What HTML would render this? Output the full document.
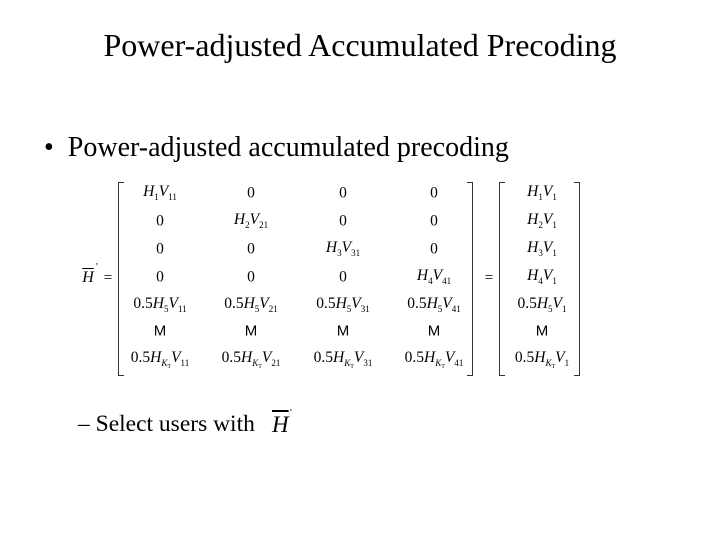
<!DOCTYPE html>
<html><head><meta charset="utf-8"><style>
body{margin:0;width:720px;height:540px;background:#fff;position:relative;overflow:hidden;font-family:"Liberation Serif",serif;color:#000}
.a{position:absolute;white-space:nowrap}
.c{position:absolute;white-space:nowrap;transform:translate(-50%,-50%);font-size:15.5px;line-height:1}
i{font-style:italic}
sub{font-size:9px;vertical-align:-4px;font-style:normal}
.m{font-family:"Liberation Sans",sans-serif;font-size:15px}
.br{position:absolute;border:1.5px solid #333;top:182px;height:192px;width:5px}
.pr{position:absolute;font-size:10px}
</style></head><body>
<div class="a" style="left:0;width:720px;text-align:center;top:27px;font-size:32px">Power-adjusted Accumulated Precoding</div>
<div class="a" style="left:44px;top:132px;font-size:28px">•&nbsp; Power-adjusted accumulated precoding</div>
<div class="a" style="left:78px;top:411px;font-size:23.5px">– Select users with</div>
<div class="a" style="left:272px;top:412px;font-size:23px"><i style="text-decoration:overline">H</i></div>
<div class="pr" style="left:290px;top:408px">'</div>

<div class="c" style="left:88px;top:278px;font-size:16px"><i style="text-decoration:overline">H</i></div>
<div class="pr" style="left:96px;top:262px">'</div>
<div class="c" style="left:108px;top:278px">=</div>
<div class="c" style="left:489px;top:278px">=</div>
<div class="br" style="left:118px;border-right:none"></div>
<div class="br" style="left:467px;border-left:none"></div>
<div class="br" style="left:499px;border-right:none"></div>
<div class="br" style="left:574px;border-left:none"></div>

<div class="c" style="left:160px;top:193px"><i>H</i><sub>1</sub><i>V</i><sub>11</sub></div>
<div class="c" style="left:251px;top:193px">0</div>
<div class="c" style="left:343px;top:193px">0</div>
<div class="c" style="left:434px;top:193px">0</div>
<div class="c" style="left:160px;top:221px">0</div>
<div class="c" style="left:251px;top:221px"><i>H</i><sub>2</sub><i>V</i><sub>21</sub></div>
<div class="c" style="left:343px;top:221px">0</div>
<div class="c" style="left:434px;top:221px">0</div>
<div class="c" style="left:160px;top:249px">0</div>
<div class="c" style="left:251px;top:249px">0</div>
<div class="c" style="left:343px;top:249px"><i>H</i><sub>3</sub><i>V</i><sub>31</sub></div>
<div class="c" style="left:434px;top:249px">0</div>
<div class="c" style="left:160px;top:277px">0</div>
<div class="c" style="left:251px;top:277px">0</div>
<div class="c" style="left:343px;top:277px">0</div>
<div class="c" style="left:434px;top:277px"><i>H</i><sub>4</sub><i>V</i><sub>41</sub></div>
<div class="c" style="left:160px;top:305px">0.5<i>H</i><sub>5</sub><i>V</i><sub>11</sub></div>
<div class="c" style="left:251px;top:305px">0.5<i>H</i><sub>5</sub><i>V</i><sub>21</sub></div>
<div class="c" style="left:343px;top:305px">0.5<i>H</i><sub>5</sub><i>V</i><sub>31</sub></div>
<div class="c" style="left:434px;top:305px">0.5<i>H</i><sub>5</sub><i>V</i><sub>41</sub></div>
<div class="c m" style="left:160px;top:331px">M</div>
<div class="c m" style="left:251px;top:331px">M</div>
<div class="c m" style="left:343px;top:331px">M</div>
<div class="c m" style="left:434px;top:331px">M</div>
<div class="c" style="left:160px;top:360px">0.5<i>H</i><sub><i>K<sub style="font-size:6px;vertical-align:-2px">T</sub></i></sub><i>V</i><sub>11</sub></div>
<div class="c" style="left:251px;top:360px">0.5<i>H</i><sub><i>K<sub style="font-size:6px;vertical-align:-2px">T</sub></i></sub><i>V</i><sub>21</sub></div>
<div class="c" style="left:343px;top:360px">0.5<i>H</i><sub><i>K<sub style="font-size:6px;vertical-align:-2px">T</sub></i></sub><i>V</i><sub>31</sub></div>
<div class="c" style="left:434px;top:360px">0.5<i>H</i><sub><i>K<sub style="font-size:6px;vertical-align:-2px">T</sub></i></sub><i>V</i><sub>41</sub></div>

<div class="c" style="left:542px;top:193px"><i>H</i><sub>1</sub><i>V</i><sub>1</sub></div>
<div class="c" style="left:542px;top:221px"><i>H</i><sub>2</sub><i>V</i><sub>1</sub></div>
<div class="c" style="left:542px;top:249px"><i>H</i><sub>3</sub><i>V</i><sub>1</sub></div>
<div class="c" style="left:542px;top:277px"><i>H</i><sub>4</sub><i>V</i><sub>1</sub></div>
<div class="c" style="left:542px;top:305px">0.5<i>H</i><sub>5</sub><i>V</i><sub>1</sub></div>
<div class="c m" style="left:542px;top:331px">M</div>
<div class="c" style="left:542px;top:360px">0.5<i>H</i><sub><i>K<sub style="font-size:6px;vertical-align:-2px">T</sub></i></sub><i>V</i><sub>1</sub></div>
</body></html>
